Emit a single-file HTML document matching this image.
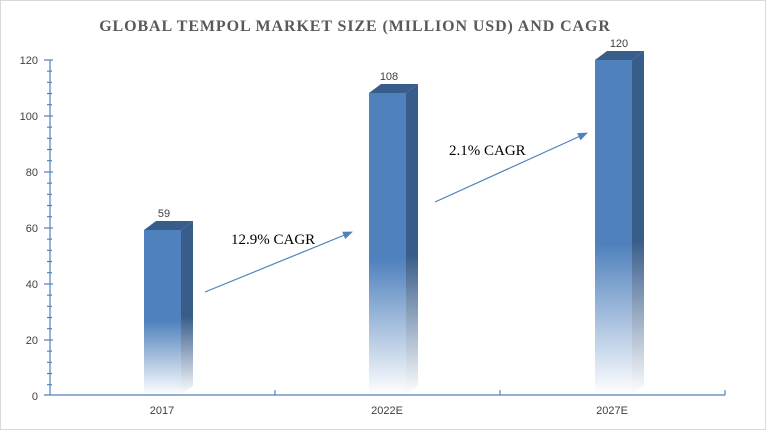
<!DOCTYPE html>
<html><head><style>body{margin:0;background:#fff}svg{display:block}</style></head><body>
<svg width="766" height="430" viewBox="0 0 766 430" xmlns="http://www.w3.org/2000/svg">
<defs>
<linearGradient id="f" x1="0" y1="0" x2="0" y2="1"><stop offset="0" stop-color="#4f81bd"/><stop offset="0.55" stop-color="#4f81bd"/><stop offset="1" stop-color="#4f81bd" stop-opacity="0"/></linearGradient>
<linearGradient id="s" x1="0" y1="0" x2="0" y2="1"><stop offset="0" stop-color="#385d8a"/><stop offset="0.55" stop-color="#385d8a"/><stop offset="1" stop-color="#385d8a" stop-opacity="0"/></linearGradient>
<marker id="ar" markerWidth="10" markerHeight="8" refX="9" refY="4" orient="auto" markerUnits="userSpaceOnUse"><path d="M0,0 L10,4 L0,8 z" fill="#4f81bd"/></marker>
</defs>
<rect x="0.5" y="0.5" width="765" height="429" fill="#fff" stroke="#d9d9d9"/>
<text x="355" y="31" text-anchor="middle" font-family="Liberation Serif, serif" font-weight="bold" font-size="16" letter-spacing="0.9" fill="#595959">GLOBAL TEMPOL MARKET SIZE  (MILLION USD) AND CAGR</text>
<g font-family="Liberation Sans, sans-serif" font-size="11" fill="#404040" text-anchor="end">
<text x="38" y="64">120</text><text x="38" y="120">100</text><text x="38" y="176">80</text><text x="38" y="232">60</text><text x="38" y="288">40</text><text x="38" y="344">20</text><text x="38" y="400">0</text>
</g>
<g stroke="#4f81bd" stroke-width="1.2">
<line x1="50" y1="60" x2="50" y2="395"/>
<line x1="44" y1="60" x2="53" y2="60"/><line x1="44" y1="116" x2="53" y2="116"/><line x1="44" y1="172" x2="53" y2="172"/><line x1="44" y1="228" x2="53" y2="228"/><line x1="44" y1="284" x2="53" y2="284"/><line x1="44" y1="340" x2="53" y2="340"/>
<path d="M47 71.2h5M47 82.3h5M47 93.5h5M47 104.7h5M47 127.2h5M47 138.3h5M47 149.5h5M47 160.7h5M47 183.2h5M47 194.3h5M47 205.5h5M47 216.7h5M47 239.2h5M47 250.3h5M47 261.5h5M47 272.7h5M47 295.2h5M47 306.3h5M47 317.5h5M47 328.7h5M47 351.2h5M47 362.3h5M47 373.5h5M47 384.7h5"/>
<line x1="44" y1="395" x2="725" y2="395"/>
<line x1="275" y1="395" x2="275" y2="390"/><line x1="500" y1="395" x2="500" y2="390"/><line x1="725" y1="395" x2="725" y2="390"/>
</g>
<g>
<polygon points="181,230 193,221 193,386 181,395" fill="url(#s)"/>
<polygon points="144,230 156,221 193,221 181,230" fill="#385d8a"/>
<rect x="144" y="230" width="37" height="165" fill="url(#f)"/>
<polygon points="406,93 418,84 418,386 406,395" fill="url(#s)"/>
<polygon points="369,93 381,84 418,84 406,93" fill="#385d8a"/>
<rect x="369" y="93" width="37" height="302" fill="url(#f)"/>
<polygon points="632,60 644,51 644,386 632,395" fill="url(#s)"/>
<polygon points="595,60 607,51 644,51 632,60" fill="#385d8a"/>
<rect x="595" y="60" width="37" height="335" fill="url(#f)"/>
</g>
<g font-family="Liberation Sans, sans-serif" font-size="11" fill="#404040" text-anchor="middle">
<text x="164" y="217">59</text><text x="389" y="80">108</text><text x="619" y="47">120</text>
<text x="162" y="414">2017</text><text x="387" y="414">2022E</text><text x="612" y="414">2027E</text>
</g>
<line x1="205" y1="292" x2="352" y2="232" stroke="#4f81bd" stroke-width="1.2" marker-end="url(#ar)"/>
<line x1="435" y1="202" x2="587" y2="133" stroke="#4f81bd" stroke-width="1.2" marker-end="url(#ar)"/>
<g font-family="Liberation Serif, serif" font-size="15" fill="#000">
<text x="231" y="244">12.9% CAGR</text><text x="449" y="155">2.1% CAGR</text>
</g>
</svg>
</body></html>
